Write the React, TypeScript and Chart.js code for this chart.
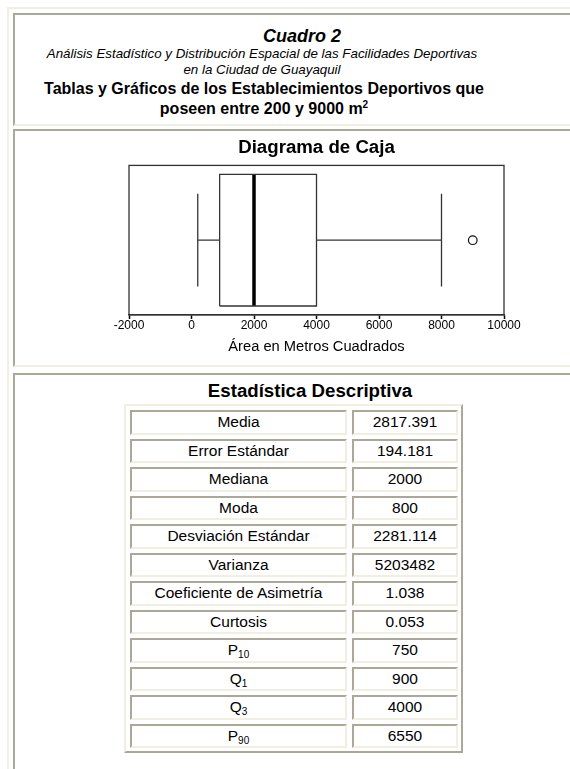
import React, { useEffect, useRef } from "react";
import { Chart, registerables } from "chart.js";

Chart.register(...registerables);

// ---------- data ----------
const xTickValues = [-2000, 0, 2000, 4000, 6000, 8000, 10000];
const fiveNumberLabels = ["Bigote inferior", "Q1", "Mediana", "Q3", "Bigote superior"];
const fiveNumberValues = [200, 900, 2000, 4000, 8000];
const outlierValues = [9000];

const statNames = [
  "Media",
  "Error Estándar",
  "Mediana",
  "Moda",
  "Desviación Estándar",
  "Varianza",
  "Coeficiente de Asimetría",
  "Curtosis",
  "P",
  "Q",
  "Q",
  "P",
];
const statSubscripts = ["", "", "", "", "", "", "", "", "10", "1", "3", "90"];
const statValues = [
  "2817.391",
  "194.181",
  "2000",
  "800",
  "2281.114",
  "5203482",
  "1.038",
  "0.053",
  "750",
  "900",
  "4000",
  "6550",
];

// ---------- styles ----------
const FONT = "'Liberation Sans', Arial, sans-serif";
const DARK = "#aca899";
const LIGHT = "#f1efe2";
const LINE = "#333333";

const insetBorder = {
  borderStyle: "solid",
  borderWidth: 2,
  borderTopColor: DARK,
  borderLeftColor: DARK,
  borderBottomColor: LIGHT,
  borderRightColor: LIGHT,
  boxSizing: "border-box" as const,
};

const outsetBorder = {
  borderStyle: "solid",
  borderWidth: 2,
  borderTopColor: LIGHT,
  borderLeftColor: LIGHT,
  borderBottomColor: DARK,
  borderRightColor: DARK,
  boxSizing: "border-box" as const,
};

const framePlugin = {
  id: "frame",
  afterDatasetsDraw(chart: any) {
    const { ctx, chartArea: a } = chart;
    ctx.save();
    ctx.strokeStyle = LINE;
    ctx.lineWidth = 1.3;
    ctx.strokeRect(a.left, a.top, a.right - a.left, a.bottom - a.top);
    ctx.restore();
  },
};

function BoxPlot() {
  const ref = useRef<HTMLCanvasElement | null>(null);

  useEffect(() => {
    if (!ref.current) return;
    const [wLo, q1, med, q3, wHi] = fiveNumberValues;
    const MID = 0.5;
    const BOX_HALF = 0.44;
    const CAP_HALF = 0.31;
    const lineDs = (label: string, data: any[], width = 1.3, color = LINE) => ({
      label,
      data,
      showLine: true,
      borderColor: color,
      borderWidth: width,
      pointRadius: 0,
      fill: false,
      tension: 0,
    });

    const chart = new Chart(ref.current, {
      type: "scatter",
      data: {
        datasets: [
          lineDs("Caja", [
            { x: q1, y: MID - BOX_HALF },
            { x: q3, y: MID - BOX_HALF },
            { x: q3, y: MID + BOX_HALF },
            { x: q1, y: MID + BOX_HALF },
            { x: q1, y: MID - BOX_HALF },
          ]),
          lineDs(fiveNumberLabels[0], [
            { x: wLo, y: MID },
            { x: q1, y: MID },
          ]),
          lineDs(fiveNumberLabels[0] + " tope", [
            { x: wLo, y: MID - CAP_HALF },
            { x: wLo, y: MID + CAP_HALF },
          ]),
          lineDs(fiveNumberLabels[4], [
            { x: q3, y: MID },
            { x: wHi, y: MID },
          ]),
          lineDs(fiveNumberLabels[4] + " tope", [
            { x: wHi, y: MID - CAP_HALF },
            { x: wHi, y: MID + CAP_HALF },
          ]),
          lineDs(
            fiveNumberLabels[2],
            [
              { x: med, y: MID - BOX_HALF },
              { x: med, y: MID + BOX_HALF },
            ],
            3.5,
            "#000"
          ),
          {
            label: "Atípicos",
            data: outlierValues.map((v) => ({ x: v, y: MID })),
            showLine: false,
            pointRadius: 4.3,
            pointStyle: "circle",
            pointBorderColor: "#111",
            pointBackgroundColor: "#fff",
            pointBorderWidth: 1.2,
          } as any,
        ],
      },
      options: {
        animation: false,
        responsive: false,
        maintainAspectRatio: false,
        layout: { padding: { left: 114, right: 51, top: 0, bottom: 9 } },
        plugins: {
          legend: { display: false },
          tooltip: { enabled: false },
          title: {
            display: true,
            text: "Diagrama de Caja",
            color: "#000",
            font: { family: FONT, size: 18.67, weight: "bold" },
            padding: { top: 6, bottom: 6 },
          },
        },
        scales: {
          x: {
            type: "linear",
            min: xTickValues[0],
            max: xTickValues[xTickValues.length - 1],
            afterBuildTicks: (s: any) => {
              s.ticks = xTickValues.map((v) => ({ value: v }));
            },
            ticks: {
              color: "#000",
              font: { family: FONT, size: 12 },
              padding: 0,
              maxRotation: 0,
              autoSkip: false,
              callback: (v: any) => String(v),
            },
            grid: {
              drawOnChartArea: false,
              drawTicks: true,
              tickLength: 4,
              tickWidth: 1.5,
              tickColor: "#000",
            },
            border: { display: true, color: LINE, width: 1.3 },
            title: {
              display: true,
              text: "Área en Metros Cuadrados",
              color: "#000",
              font: { family: FONT, size: 14.7 },
              padding: { top: 5, bottom: 0 },
            },
          },
          y: { type: "linear", min: 0, max: 1, display: false },
        },
      },
      plugins: [framePlugin],
    } as any);
    return () => chart.destroy();
  }, []);

  return (
    <canvas
      ref={ref}
      width={540}
      height={234}
      style={{ position: "absolute", left: 15, top: 131, width: 540, height: 234 }}
    />
  );
}

export default function App() {
  const ROW_TOP = 410;
  const ROW_PITCH = 28.5;
  const ROW_H = 24.5;
  return (
    <div
      style={{
        position: "absolute",
        left: 0,
        top: 0,
        width: 570,
        height: 769,
        overflow: "hidden",
        background: "#fff",
        fontFamily: FONT,
        color: "#000",
      }}
    >
      {/* outer table border (outset, light top/left) */}
      <div style={{ position: "absolute", left: 7, top: 7, width: 2, height: 800, background: LIGHT }} />
      <div style={{ position: "absolute", left: 7, top: 7, width: 600, height: 2, background: LIGHT }} />

      {/* panel 1 */}
      <div style={{ ...insetBorder, position: "absolute", left: 13, top: 13, width: 587, height: 113 }} />
      <div
        style={{
          position: "absolute",
          left: 302 - 150,
          width: 300,
          top: 26,
          textAlign: "center",
          fontWeight: "bold",
          fontStyle: "italic",
          fontSize: 18,
          lineHeight: "20px",
          whiteSpace: "nowrap",
        }}
      >
        Cuadro 2
      </div>
      <div
        style={{
          position: "absolute",
          left: 262 - 250,
          width: 500,
          top: 46,
          textAlign: "center",
          fontStyle: "italic",
          fontSize: 13.33,
          lineHeight: "16px",
          whiteSpace: "nowrap",
        }}
      >
        Análisis Estadístico y Distribución Espacial de las Facilidades Deportivas
        <br />
        en la Ciudad de Guayaquil
      </div>
      <div
        style={{
          position: "absolute",
          left: 264 - 250,
          width: 500,
          top: 79,
          textAlign: "center",
          fontWeight: "bold",
          fontSize: 16,
          lineHeight: "19.5px",
          whiteSpace: "nowrap",
        }}
      >
        Tablas y Gráficos de los Establecimientos Deportivos que
        <br />
        poseen entre 200 y 9000 m
        <sup style={{ fontSize: 10, lineHeight: 0, verticalAlign: "6px" }}>2</sup>
      </div>

      {/* panel 2 */}
      <div style={{ ...insetBorder, position: "absolute", left: 13, top: 129, width: 587, height: 238 }} />
      <BoxPlot />

      {/* panel 3 */}
      <div style={{ ...insetBorder, position: "absolute", left: 13, top: 373, width: 587, height: 500 }} />
      <div style={{ ...outsetBorder, position: "absolute", left: 124, top: 404, width: 339, height: 349 }} />
      <div
        style={{
          position: "absolute",
          left: 310 - 150,
          width: 300,
          top: 380,
          textAlign: "center",
          fontWeight: "bold",
          fontSize: 18.67,
          lineHeight: "22px",
          whiteSpace: "nowrap",
        }}
      >
        Estadística Descriptiva
      </div>
      {statNames.map((name, i) => {
        const top = ROW_TOP + i * ROW_PITCH;
        const cellText = {
          display: "flex",
          alignItems: "center",
          justifyContent: "center",
          fontSize: 15.5,
          whiteSpace: "nowrap" as const,
        };
        return (
          <React.Fragment key={i}>
            <div
              style={{ ...insetBorder, ...cellText, position: "absolute", left: 130, top, width: 217, height: ROW_H }}
            >
              <span>
                {name}
                {statSubscripts[i] ? (
                  <sub style={{ fontSize: 10, lineHeight: 0, verticalAlign: "-3px" }}>{statSubscripts[i]}</sub>
                ) : null}
              </span>
            </div>
            <div
              style={{ ...insetBorder, ...cellText, position: "absolute", left: 352, top, width: 106, height: ROW_H }}
            >
              {statValues[i]}
            </div>
          </React.Fragment>
        );
      })}
    </div>
  );
}
